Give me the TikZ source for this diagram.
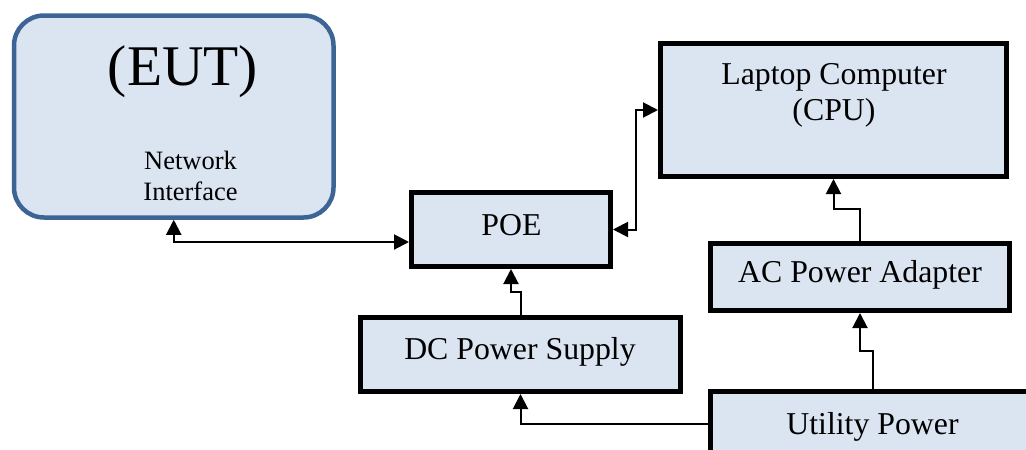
\documentclass[tikz,border=0pt]{standalone}
\usepackage{fontspec}
\setmainfont{Liberation Serif}
\usetikzlibrary{arrows.meta,calc}
\definecolor{boxfill}{HTML}{DBE5F1}
\definecolor{eutline}{HTML}{3C6494}
\tikzset{
  blk/.style={draw=black, line width=5pt, fill=boxfill, inner sep=0pt},
  eutbox/.style={draw=eutline, line width=4.5pt, fill=boxfill, rounded corners=30pt, inner sep=0pt},
  lbl/.style={inner sep=0pt, anchor=base, font=\fontsize{31.8}{36}\selectfont},
  smalllbl/.style={inner sep=0pt, anchor=base, font=\fontsize{26.5}{30}\selectfont},
  conn/.style={line width=2pt, draw=black, arrows={-Triangle[length=15pt,width=15pt]}},
  conn2/.style={line width=2pt, draw=black, arrows={Triangle[length=15pt,width=15pt]-Triangle[length=15pt,width=15pt]}}
}
\begin{document}
\begin{tikzpicture}[x=1pt,y=-1pt]
\clip (0,0) rectangle (1026,450);
\fill[white] (0,0) rectangle (1026,450);
% boxes
\node[eutbox, minimum width=319.5pt, minimum height=202pt] (eut) at (173.75,116.5) {};
\node[blk, minimum width=199pt, minimum height=74pt] (poe) at (511,229.5) {};
\node[blk, minimum width=346pt, minimum height=133pt] (laptop) at (833.5,110) {};
\node[blk, minimum width=299pt, minimum height=67pt] (ac) at (860,277) {};
\node[blk, minimum width=320pt, minimum height=74pt] (dc) at (520.5,354.5) {};
\node[blk, minimum width=325pt, minimum height=65pt] (util) at (873,424) {};
% texts
\node[inner sep=0pt, anchor=base, font=\fontsize{57.5}{60}\selectfont] (eutt) at (183,85) {(EUT)};
\node[smalllbl] (net1) at (190.5,169) {Network};
\node[smalllbl] (net2) at (190.5,200) {Interface};
\node[lbl] (poet) at (511.5,235) {POE};
\node[lbl] (lap1) at (834,84) {Laptop Computer};
\node[lbl] (lap2) at (834,120) {(CPU)};
\node[lbl] (act) at (860,282) {AC Power Adapter};
\node[lbl] (dct) at (520,359) {DC Power Supply};
\node[lbl] (utt) at (872.5,434) {Utility Power};
% connectors
\coordinate (j1) at (173.75,242);
\coordinate (j2) at (636,170);
\draw[conn2] (eut.south) |- (j1) -- (j1 -| poe.west);
\draw[conn2] (poe.east) -| (j2) |- (laptop.west);
\draw[conn] (dc.north) -- ++(0,-23) -| (poe.south);
\draw[conn] (util.west) -| (dc.south);
\draw[conn] (util.north) -- ++(0,-38) -| (ac.south);
\draw[conn] (ac.north) -- ++(0,-32) -| (laptop.south);
\end{tikzpicture}
\end{document}
